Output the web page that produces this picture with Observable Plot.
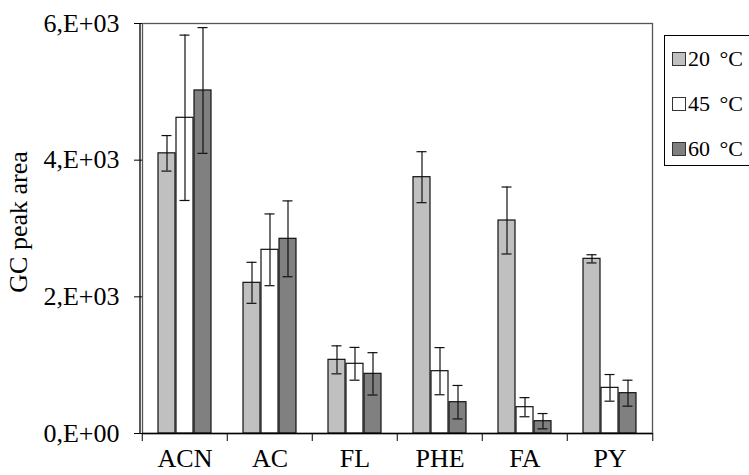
<!DOCTYPE html>
<html>
<head>
<meta charset="utf-8">
<script src="https://cdn.jsdelivr.net/npm/d3@7"></script>
<script src="https://cdn.jsdelivr.net/npm/@observablehq/plot@0.6"></script>
<style>
  html, body { margin: 0; padding: 0; background: #fff; overflow: hidden; }
  #wrap { position: relative; width: 749px; height: 475px; }
  #legend { position: absolute; left: 664px; top: 35px; width: 110px; height: 131px;
    border: 1px solid #000; box-sizing: border-box; font-family: "Liberation Serif", serif; font-size: 22px; word-spacing: 4px; }
  .row { position: absolute; left: 7px; display: flex; align-items: center; height: 24px; white-space: nowrap; }
  .sw { width: 14px; height: 14px; border: 1px solid #333; box-sizing: border-box; margin-right: 2px; }
</style>
</head>
<body>
<div id="wrap"></div>
<script>
const categories = ["ACN", "AC", "FL", "PHE", "FA", "PY"];
const series = ["20 °C", "45 °C", "60 °C"];
const values20 = [4100, 2205, 1078, 3751, 3117, 2556];
const values45 = [4620, 2688, 1020, 912, 385, 668];
const values60 = [5020, 2849, 873, 458, 180, 590];
const err20 = [260, 300, 205, 373, 490, 60];
const err45 = [1210, 525, 240, 345, 140, 195];
const err60 = [920, 555, 310, 245, 112, 190];
const yTicks = [0, 2000, 4000, 6000];
const yTickLabels = ["0,E+00", "2,E+03", "4,E+03", "6,E+03"];
const yLabel = "GC peak area";
const seriesColors = ["#c0c0c0", "#ffffff", "#808080"];

const valueSets = [values20, values45, values60];
const errSets = [err20, err45, err60];
const rows = [];
categories.forEach((c, i) => {
  series.forEach((s, j) => {
    rows.push({cat: c, series: s, value: valueSets[j][i], err: errSets[j][i]});
  });
});

const W = 749, H = 475, mL = 140, mR = 96, mT = 23, mB = 42;
const step = (W - mL - mR) / categories.length;

const plot = Plot.plot({
  width: W, height: H,
  marginLeft: mL, marginRight: mR, marginTop: mT, marginBottom: mB,
  style: {fontFamily: "Liberation Serif, serif", fontSize: "26px", color: "#000", background: "transparent", overflow: "visible"},
  fx: {domain: categories, padding: 0, label: null, axis: null},
  x: {domain: series, paddingInner: 0.04, paddingOuter: 0.86, axis: null},
  y: {domain: [0, 6000], label: null, axis: null},
  color: {domain: series, range: seriesColors},
  marks: [
    Plot.frame({facet: "super", stroke: "#555", strokeWidth: 1.3}),
    Plot.barY(rows, {fx: "cat", x: "series", y: "value", fill: "series", stroke: "#111", strokeWidth: 1.2}),
    Plot.ruleX(rows, {fx: "cat", x: "series", y1: d => d.value - d.err, y2: d => d.value + d.err, stroke: "#111", strokeWidth: 1.2}),
    Plot.tickY(rows, {fx: "cat", x: "series", y: d => d.value - d.err, insetLeft: 3.5, insetRight: 3.5, stroke: "#111", strokeWidth: 1.2}),
    Plot.tickY(rows, {fx: "cat", x: "series", y: d => d.value + d.err, insetLeft: 3.5, insetRight: 3.5, stroke: "#111", strokeWidth: 1.2}),
    Plot.ruleY([0], {stroke: "#000", strokeWidth: 1.3}),
    Plot.axisY({ticks: yTicks, tickFormat: d => yTickLabels[yTicks.indexOf(d)], tickSize: 8, tickPadding: 15, label: null, fontSize: 26}),
    Plot.axisFx({anchor: "bottom", tickSize: 0, tickPadding: 15, label: null, fontSize: 26}),
    Plot.axisFx({anchor: "bottom", tickSize: 8, tickFormat: () => "", label: null, dx: -step / 2}),
    Plot.axisFx({anchor: "bottom", ticks: categories.slice(-1), tickSize: 8, tickFormat: () => "", label: null, dx: step / 2})
  ]
});

const wrap = document.getElementById("wrap");
wrap.appendChild(plot);

const svg = d3.select(plot);
// left axis line
svg.append("line")
  .attr("x1", mL).attr("x2", mL).attr("y1", mT).attr("y2", H - mB)
  .attr("stroke", "#000").attr("stroke-width", 1.3);
// y axis title
const yScale = plot.scale("y");
const yMid = (yScale.apply(yScale.domain[0]) + yScale.apply(yScale.domain[1])) / 2 - 6;
svg.append("text")
  .attr("transform", `translate(27,${yMid}) rotate(-90)`)
  .attr("text-anchor", "middle")
  .attr("font-family", "Liberation Serif, serif")
  .attr("font-size", 26)
  .attr("fill", "#000")
  .text(yLabel);

// Legend
const color = plot.scale("color");
const legend = document.createElement("div");
legend.id = "legend";
const rowTops = [10.5, 55.5, 100.5];
series.forEach((s, i) => {
  const r = document.createElement("div");
  r.className = "row";
  r.style.top = rowTops[i] + "px";
  const sw = document.createElement("div");
  sw.className = "sw";
  sw.style.background = color.range[i];
  const t = document.createElement("span");
  t.textContent = s;
  r.appendChild(sw); r.appendChild(t);
  legend.appendChild(r);
});
wrap.appendChild(legend);
</script>
</body>
</html>
